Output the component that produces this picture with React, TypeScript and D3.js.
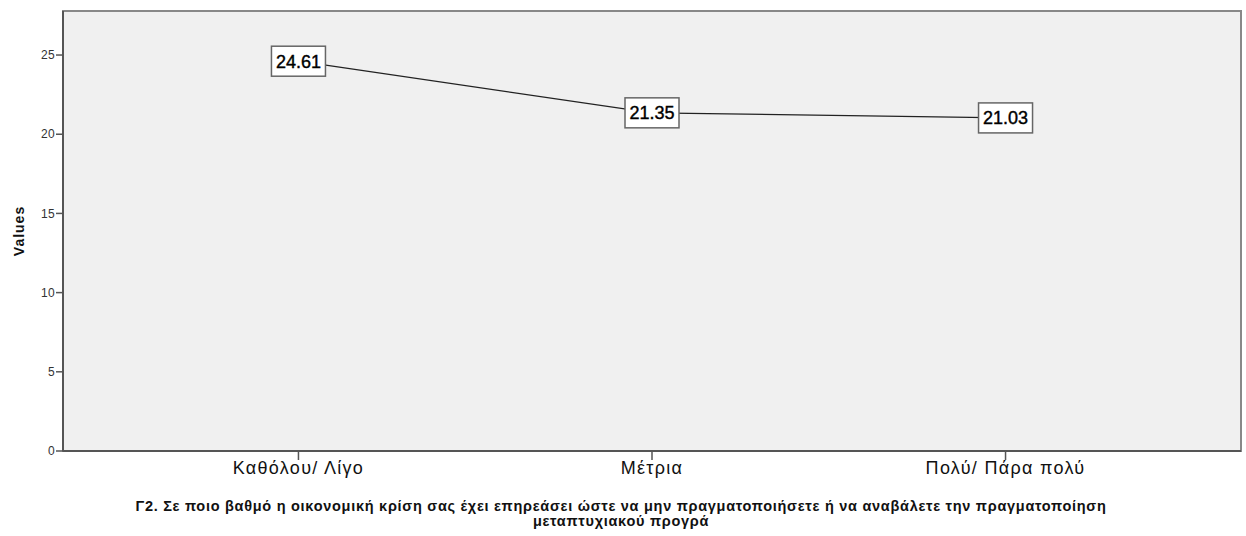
import React from "react";
import * as d3 from "d3";

const categories = ["Καθόλου/ Λίγο", "Μέτρια", "Πολύ/ Πάρα πολύ"];
const values = [24.61, 21.35, 21.03];
const yTicks = [0, 5, 10, 15, 20, 25];
const yTitle = "Values";
const xTitleLines = [
  "Γ2. Σε ποιο βαθμό η οικονομική κρίση σας έχει επηρεάσει ώστε να μην πραγματοποιήσετε ή να αναβάλετε την πραγματοποίηση",
  "μεταπτυχιακού προγρά",
];

const W = 1246;
const H = 536;
const L = 63;
const R = 1241;
const T = 11;
const B = 451;

export default function App() {
  const x = d3.scalePoint<string>().domain(categories).range([L, R]).padding(0.666);
  const y = d3.scaleLinear().domain([0, 27.78]).range([B, T]);
  const line = d3
    .line<number>()
    .x((_, i) => x(categories[i]) as number)
    .y((d) => y(d));
  const font = "Arial, 'Liberation Sans', sans-serif";
  return (
    <svg
      width={W}
      height={H}
      style={{ position: "absolute", left: 0, top: 0, background: "#fff" }}
      fontFamily={font}
    >
      <rect x={L} y={T} width={R - L} height={B - T} fill="#f0f0f0" stroke="#888" strokeWidth={2} />
      <line x1={L} y1={T} x2={L} y2={B} stroke="#555" strokeWidth={2} />
      <line x1={L} y1={B} x2={R} y2={B} stroke="#555" strokeWidth={2} />
      {yTicks.map((t) => (
        <g key={t}>
          <line x1={L - 7} x2={L} y1={y(t)} y2={y(t)} stroke="#555" strokeWidth={1.5} />
          <text x={L - 8} y={y(t)} dy="0.35em" textAnchor="end" fontSize={12} letterSpacing={0.3} fill="#333">
            {t}
          </text>
        </g>
      ))}
      {categories.map((c) => (
        <g key={c}>
          <line x1={x(c)} x2={x(c)} y1={B} y2={B + 9} stroke="#555" strokeWidth={1.5} />
          <text x={x(c)} y={B + 23} textAnchor="middle" fontSize={18} letterSpacing={1.3} fill="#111">
            {c}
          </text>
        </g>
      ))}
      <text
        transform={`translate(24,${(T + B) / 2}) rotate(-90)`}
        textAnchor="middle"
        fontSize={14}
        letterSpacing={1}
        fontWeight="bold"
        fill="#111"
      >
        {yTitle}
      </text>
      {xTitleLines.map((s, i) => (
        <text
          key={i}
          x={(L + R) / 2 - 31}
          y={511 + i * 15}
          textAnchor="middle"
          fontSize={14.5}
          letterSpacing={0.72}
          fontWeight="bold"
          fill="#111"
        >
          {s}
        </text>
      ))}
      <path d={line(values) || ""} fill="none" stroke="#222" strokeWidth={1.3} />
      {values.map((v, i) => {
        const cx = x(categories[i]) as number;
        const cy = y(v);
        return (
          <g key={i}>
            <rect x={cx - 27} y={cy - 15} width={54} height={30} fill="#fff" stroke="#666" strokeWidth={1.5} />
            <text x={cx} y={cy} dy="0.36em" textAnchor="middle" fontSize={18} fill="#000" stroke="#000" strokeWidth={0.4}>
              {v.toFixed(2)}
            </text>
          </g>
        );
      })}
    </svg>
  );
}
